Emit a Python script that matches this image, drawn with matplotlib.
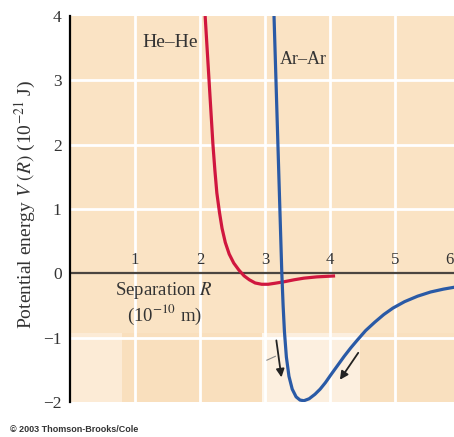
import numpy as np
import matplotlib
matplotlib.use("Agg")
import matplotlib.pyplot as plt
from matplotlib.patches import Rectangle

# He-He potential, R in 1e-10 m, V in 1e-21 J
he_R = [2.08, 2.11, 2.14, 2.17, 2.20, 2.23, 2.26, 2.30, 2.34, 2.39, 2.45, 2.52,
        2.60, 2.68, 2.76, 2.85, 2.95, 3.05, 3.15, 3.30, 3.45, 3.60, 3.80, 4.08]
he_V = [4.0, 3.5, 3.0, 2.5, 2.0, 1.6, 1.25, 0.95, 0.70, 0.48, 0.30, 0.16,
        0.05, -0.04, -0.10, -0.15, -0.17, -0.17, -0.155, -0.13, -0.10, -0.075, -0.055, -0.04]

# Ar-Ar potential
ar_R = [3.14, 3.155, 3.17, 3.185, 3.20, 3.215, 3.23, 3.245, 3.26, 3.28, 3.30, 3.33,
        3.37, 3.42, 3.48, 3.54, 3.60, 3.68, 3.77, 3.85, 3.93, 4.02, 4.12, 4.22,
        4.32, 4.42, 4.55, 4.69, 4.83, 4.97, 5.15, 5.35, 5.55, 5.75, 5.95]
ar_V = [4.0, 3.5, 3.0, 2.5, 2.0, 1.5, 1.0, 0.5, 0.0, -0.5, -0.9, -1.3,
        -1.6, -1.80, -1.92, -1.97, -1.98, -1.95, -1.88, -1.80, -1.70, -1.57, -1.43, -1.29,
        -1.16, -1.04, -0.89, -0.76, -0.64, -0.54, -0.44, -0.355, -0.29, -0.245, -0.21]

x_ticks = [1, 2, 3, 4, 5, 6]
y_ticks = [-2, -1, 0, 1, 2, 3, 4]

# arrows (start, end)
arrows = [((3.17, -1.00), (3.26, -1.66)),
          ((4.46, -1.20), (4.13, -1.69))]

serif = "Liberation Serif"
bg = "#fae3c4"
txt = "#333333"

plt.rcParams["mathtext.fontset"] = "stix"
fig = plt.figure(figsize=(4.54, 4.37), dpi=100)
ax = fig.add_axes([70/454, 1-402/437, 1-70/454, (402-16)/437])
ax.set_xlim(0, 5.91)
ax.set_ylim(-2, 4)
ax.set_facecolor(bg)

# faint shaded blocks in the lower band
blocks = [(0, 0.8, "#fcebd6"), (0.8, 2.95, "#f9dfbd"), (2.95, 3.03, "#fdf6ec"),
          (3.03, 4.46, "#fcefdf"), (4.46, 6.0, "#f9e0bf")]
for x0, x1, c in blocks:
    ax.add_patch(Rectangle((x0, -2), x1 - x0, 1.08, color=c, zorder=0, lw=0))

for x in x_ticks:
    ax.axvline(x, color="white", lw=2, zorder=1)
for y in y_ticks:
    if y not in (0, -2, 4):
        ax.axhline(y, color="white", lw=2, zorder=1)
ax.axhline(0, color="#4a4540", lw=1.6, zorder=2)

ax.plot(he_R, he_V, color="#d0173f", lw=2.3, zorder=3, solid_capstyle="butt")
ax.plot(ar_R, ar_V, color="#2a5aa6", lw=2.3, zorder=3)

for (x0, y0), (x1, y1) in arrows:
    ax.annotate("", xy=(x1, y1), xytext=(x0, y0),
                arrowprops=dict(arrowstyle="-|>", color="#222222", lw=1.3,
                                mutation_scale=12), zorder=4)
ax.plot([3.03, 3.16], [-1.35, -1.29], color="#888888", lw=0.8, zorder=4)

for s in ["top", "right", "bottom"]:
    ax.spines[s].set_visible(False)
ax.spines["left"].set_color("black")
ax.spines["left"].set_linewidth(1.6)

ax.set_xticks([])
ax.set_yticks(y_ticks)
ax.set_yticklabels([str(v).replace("-", "\u2212") for v in y_ticks],
                   fontfamily=serif, fontsize=12.5, color=txt)
ax.tick_params(axis="y", length=0, pad=6)

for x in x_ticks[:-1]:
    ax.text(x, 0.08, str(x), ha="center", va="bottom", fontfamily=serif,
            fontsize=12, color=txt, zorder=5)
# last label sits at the right edge
ax.text(5.91, 0.08, str(x_ticks[-1]), ha="right", va="bottom", fontfamily=serif,
        fontsize=12, color=txt, zorder=5)

ax.text(1.45, -0.26, "Separation $R$", ha="center", va="center", fontfamily=serif,
        fontsize=13.5, color=txt)
ax.text(1.45, -0.64, "(10$^{-10}$ m)", ha="center", va="center", fontfamily=serif,
        fontsize=13.5, color=txt)
ax.text(1.54, 3.59, "He\u2013He", ha="center", va="center", fontfamily=serif,
        fontsize=14, color=txt)
ax.text(3.23, 3.32, "Ar\u2013Ar", ha="left", va="center", fontfamily=serif,
        fontsize=13, color=txt)

fig.text(25/454, 1-204/437, "Potential energy $V$ $(R)$ (10$^{-21}$ J)", rotation=90,
         ha="center", va="center", fontfamily=serif, fontsize=14, color=txt)
fig.text(10/454, 1-430/437, "\u00a9 2003 Thomson-Brooks/Cole", ha="left", va="center",
         fontfamily="Liberation Sans", fontweight="bold", fontsize=6.5, color=txt)

fig.savefig("out.png", dpi=100)
